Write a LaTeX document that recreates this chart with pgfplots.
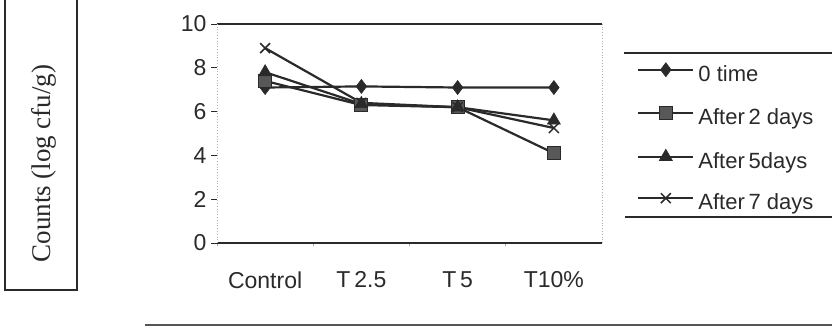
\documentclass[border=0pt]{standalone}
\usepackage{fontspec}
\setmainfont{Liberation Sans}
\newfontfamily\seriffont{Liberation Serif}
\usepackage{pgfplots}
\pgfplotsset{compat=1.18}
\definecolor{ink}{HTML}{2A2A2A}
\definecolor{sqfill}{HTML}{585858}
\begin{document}
\begin{tikzpicture}[x=1pt,y=1pt]
\useasboundingbox (0,0) rectangle (832,327);
% y-label box
\draw[ink, line width=1.4pt] (5,340) -- (5,37) -- (77,37) -- (77,340);
% bottom rule
\draw[ink!80, line width=2pt] (145,2) -- (832,2);
% legend frame lines
\draw[ink, line width=1.4pt] (624,274) -- (840,274);
\draw[ink, line width=1.4pt] (625,110) -- (840,110);
\begin{axis}[
  at={(217pt,84pt)}, anchor=south west,
  scale only axis, width=385pt, height=219pt,
  xmin=-0.5, xmax=3.5, ymin=0, ymax=10,
  xtick={0,1,2,3}, xticklabels={Control,T\,2.5,T\,5,T10\%},
  ytick={0,2,4,6,8,10},
  minor xtick={-0.5,0.5,1.5,2.5},
  separate axis lines,
  x axis line style={ink, line width=1.8pt},
  y axis line style={gray!60, line width=0.8pt, dotted},
  tick align=outside,
  major tick length=6pt, minor tick length=3pt,
  x tick style={draw=none},
  minor x tick style={draw=gray!70, line width=0.8pt},
  y tick style={ink, line width=0.9pt},
  ytick pos=left, xtick pos=bottom,
  /pgf/number format/assume math mode=true,
  tick label style={font=\fontsize{23}{26}\selectfont, text=ink},
  xticklabel style={yshift=-19pt},
  yticklabel style={xshift=-1pt},
  ylabel={\seriffont Counts (log cfu/g)},
  ylabel style={at={(axis description cs:-0.4505,0.363)}, anchor=center, rotate=0, font=\fontsize{27}{30}\selectfont, text=ink},
  legend style={draw=none, fill=none, at={(axis description cs:1.091,0.824)}, anchor=north west,
    font=\fontsize{22}{24}\selectfont, text=ink,
    nodes={text height=16pt, text depth=5pt, inner sep=0pt},
    row sep=20pt, inner sep=0pt},
  legend cell align=left,
  /tikz/every odd column/.append style={column sep=4pt},
  legend image code/.code={\draw[mark repeat=2,mark phase=2] plot coordinates {(0pt,6pt) (27.5pt,6pt) (55pt,6pt)};},
  every axis plot/.append style={ink, line width=2.2pt},
  clip=false,
]
\addplot[mark=diamond*, mark size=7pt, mark options={fill=ink, draw=ink, line width=0.6pt}] coordinates {(0,7.1) (1,7.15) (2,7.1) (3,7.1)};
\addlegendentry{0 time}
\addplot[mark=square*, mark size=6.5pt, mark options={fill=sqfill, draw=ink, line width=1.2pt}] coordinates {(0,7.4) (1,6.3) (2,6.2) (3,4.1)};
\addlegendentry{After\,2 days}
\addplot[mark=triangle*, mark size=7.5pt, mark options={fill=ink, draw=ink, line width=0.6pt}] coordinates {(0,7.8) (1,6.35) (2,6.2) (3,5.6)};
\addlegendentry{After\,5days}
\addplot[mark=x, mark size=7pt, mark options={draw=ink, line width=1.5pt}] coordinates {(0,8.9) (1,6.4) (2,6.2) (3,5.25)};
\addlegendentry{After\,7 days}
\end{axis}
\end{tikzpicture}
\end{document}
